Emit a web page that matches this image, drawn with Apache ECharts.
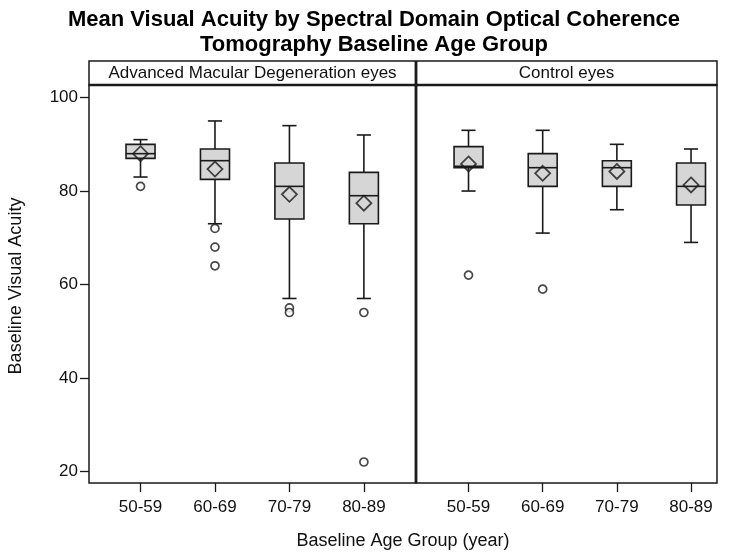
<!DOCTYPE html>
<html>
<head>
<meta charset="utf-8">
<script src="https://cdn.jsdelivr.net/npm/echarts@6/dist/echarts.min.js"></script>
<style>html,body{margin:0;padding:0;background:#fff;}#c{width:750px;height:556px;}</style>
</head>
<body>
<div id="c"></div>
<script>
// ---- data ----
const categories = ['50-59', '60-69', '70-79', '80-89'];
const panelTitles = ['Advanced Macular Degeneration eyes', 'Control eyes'];
const yTicks = [20, 40, 60, 80, 100];
// box stats: [lower whisker, Q1, median, Q3, upper whisker]
const amdBox = [
  [83, 87, 88, 90, 91],
  [73, 82.5, 86.5, 89, 95],
  [57, 74, 81, 86, 94],
  [57, 73, 79, 84, 92]
];
const amdMean = [88, 84.7, 79.3, 77.4];
const amdOutliers = [[0, 81], [1, 72], [1, 68], [1, 64], [2, 55], [2, 54], [3, 54], [3, 22]];
const ctlBox = [
  [80, 85, 85.3, 89.5, 93],
  [71, 81, 85, 88, 93],
  [76, 81, 85, 86.5, 90],
  [69, 77, 81, 86, 89]
];
const ctlMean = [85.8, 83.8, 84.2, 81.3];
const ctlOutliers = [[0, 62], [1, 59]];

// ---- chart ----
const FONT = '"Liberation Sans", Arial, sans-serif';
const LINE = '#1a1a1a';
const chart = echarts.init(document.getElementById('c'), null, {renderer: 'canvas'});

function boxData(stats) { return stats.map((s, i) => [i + 1].concat(s)); }
function meanData(m) { return m.map((v, i) => [i + 1, v]); }
function outData(o) { return o.map(p => [p[0] + 1, p[1]]); }

function renderBox(params, api) {
  const x = api.value(0);
  const pMin = api.coord([x, api.value(1)]);
  const pQ1 = api.coord([x, api.value(2)]);
  const pMed = api.coord([x, api.value(3)]);
  const pQ3 = api.coord([x, api.value(4)]);
  const pMax = api.coord([x, api.value(5)]);
  const unit = api.size([1, 0])[0];
  const hw = unit * 0.195;
  const cw = unit * 0.095;
  const cx = pMed[0];
  const st = {stroke: LINE, lineWidth: 1.6};
  return {
    type: 'group',
    children: [
      {type: 'line', shape: {x1: cx, y1: pMax[1], x2: cx, y2: pQ3[1]}, style: st},
      {type: 'line', shape: {x1: cx, y1: pQ1[1], x2: cx, y2: pMin[1]}, style: st},
      {type: 'line', shape: {x1: cx - cw, y1: pMax[1], x2: cx + cw, y2: pMax[1]}, style: st},
      {type: 'line', shape: {x1: cx - cw, y1: pMin[1], x2: cx + cw, y2: pMin[1]}, style: st},
      {type: 'rect', shape: {x: cx - hw, y: pQ3[1], width: 2 * hw, height: pQ1[1] - pQ3[1]},
        style: {fill: '#d6d6d6', stroke: LINE, lineWidth: 1.6}},
      {type: 'line', shape: {x1: cx - hw, y1: pMed[1], x2: cx + hw, y2: pMed[1]}, style: st}
    ]
  };
}

const yMin = 17.5, yMax = 102.7;
function yAxisCfg(idx, show) {
  return {
    type: 'value', gridIndex: idx, min: yMin, max: yMax,
    axisLine: {show: false},
    splitLine: {show: false},
    axisTick: {show: show, length: 9, lineStyle: {color: LINE, width: 1.3}, customValues: yTicks},
    axisLabel: {show: show, customValues: yTicks, color: '#111', fontSize: 17, fontFamily: FONT, margin: 11}
  };
}
function xAxisCfg(idx, min, max) {
  const vals = categories.map((c, i) => i + 1);
  return {
    type: 'value', gridIndex: idx, min: min, max: max,
    axisLine: {show: false},
    splitLine: {show: false},
    axisTick: {show: true, length: 9, lineStyle: {color: LINE, width: 1.3}, customValues: vals},
    axisLabel: {show: true, customValues: vals, color: '#111', fontSize: 17, fontFamily: FONT, margin: 16,
      formatter: v => categories[Math.round(v) - 1] || ''}
  };
}

const series = [];
[[amdBox, amdMean, amdOutliers], [ctlBox, ctlMean, ctlOutliers]].forEach((g, k) => {
  series.push({type: 'custom', xAxisIndex: k, yAxisIndex: k, renderItem: renderBox,
    encode: {x: 0, y: [1, 2, 3, 4, 5]}, data: boxData(g[0]), z: 2});
  series.push({type: 'scatter', xAxisIndex: k, yAxisIndex: k, data: meanData(g[1]),
    symbol: 'diamond', symbolSize: 15,
    itemStyle: {color: 'rgba(0,0,0,0)', borderColor: LINE, borderWidth: 1.8}, z: 3});
  series.push({type: 'scatter', xAxisIndex: k, yAxisIndex: k, data: outData(g[2]),
    symbol: 'circle', symbolSize: 8,
    itemStyle: {color: '#fff', borderColor: LINE, borderWidth: 1.7}, z: 3});
});

const L = 89, M = 416, R = 717, T = 85, B = 483, HT = 61;

chart.setOption({
  animation: false,
  backgroundColor: '#fff',
  title: {
    text: 'Mean Visual Acuity by Spectral Domain Optical Coherence\nTomography Baseline Age Group',
    left: 369, top: 2, textAlign: 'center',
    textStyle: {fontSize: 22, fontWeight: 'bold', fontFamily: FONT, color: '#000', lineHeight: 25}
  },
  grid: [
    {left: L, top: T, width: M - L, height: B - T, show: true, borderColor: LINE, borderWidth: 1.5, backgroundColor: 'transparent'},
    {left: M, top: T, width: R - M, height: B - T, show: true, borderColor: LINE, borderWidth: 1.5, backgroundColor: 'transparent'}
  ],
  xAxis: [xAxisCfg(0, 0.308, 4.70), xAxisCfg(1, 0.292, 4.35)],
  yAxis: [yAxisCfg(0, true), yAxisCfg(1, false)],
  series: series,
  graphic: [
    {type: 'rect', shape: {x: L, y: HT, width: R - L, height: T - HT},
      style: {fill: '#fff', stroke: LINE, lineWidth: 1.5}, z: 10},
    {type: 'line', shape: {x1: L, y1: T, x2: R, y2: T}, style: {stroke: LINE, lineWidth: 2.5}, z: 11},
    {type: 'line', shape: {x1: M, y1: HT, x2: M, y2: B}, style: {stroke: LINE, lineWidth: 2.8}, z: 11},
    {type: 'text', x: (L + M) / 2, y: (HT + T) / 2 + 0.5,
      style: {text: panelTitles[0], fontSize: 17, fontFamily: FONT, fill: '#111', align: 'center', verticalAlign: 'middle'}, z: 12},
    {type: 'text', x: (M + R) / 2, y: (HT + T) / 2 + 0.5,
      style: {text: panelTitles[1], fontSize: 17, fontFamily: FONT, fill: '#111', align: 'center', verticalAlign: 'middle'}, z: 12},
    {type: 'text', x: 403, y: 541,
      style: {text: 'Baseline Age Group (year)', fontSize: 18, fontFamily: FONT, fill: '#111', align: 'center', verticalAlign: 'middle'}, z: 12},
    {type: 'text', x: 16, y: 286, rotation: Math.PI / 2,
      style: {text: 'Baseline Visual Acuity', fontSize: 18, fontFamily: FONT, fill: '#111', align: 'center', verticalAlign: 'middle'}, z: 12}
  ]
});
</script>
</body>
</html>
